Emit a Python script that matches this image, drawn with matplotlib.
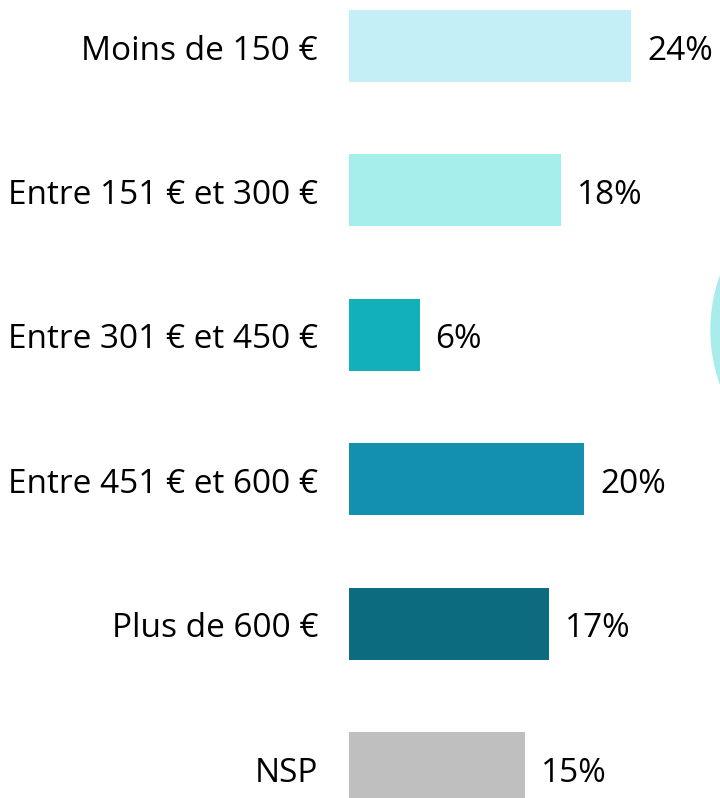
import matplotlib.pyplot as plt
from matplotlib.patches import Ellipse

categories = ["Moins de 150 €", "Entre 151 € et 300 €", "Entre 301 € et 450 €",
              "Entre 451 € et 600 €", "Plus de 600 €", "NSP"]
values = [24, 18, 6, 20, 17, 15]
colors = ["#c5eff7", "#a6eeec", "#12b0b8", "#1390b0", "#0d6b80", "#bfbfbf"]

plt.rcParams['font.family'] = ['Open Sans', 'DejaVu Sans']

W, H = 720, 798
fig = plt.figure(figsize=(W / 100, H / 100), dpi=100)
ax = fig.add_axes([0, 0, 1, 1])

# pixel geometry: bars start at x=349, ~11.75 px per %
x0, ppu = 349, 11.75
yc0, step = 46, 144.4
ax.set_xlim(-x0 / ppu, (W - x0) / ppu)
ax.set_ylim((H - yc0) / step, -yc0 / step)
ax.axis("off")

ys = list(range(len(categories)))
ax.barh(ys, values, height=0.5, color=colors)

base = 13.5 / step  # baseline offset below bar centre
for y, cat, v in zip(ys, categories, values):
    ax.text(-31 / ppu, y + base, cat, ha="right", va="baseline", fontsize=24)
    ax.text(v + 16 / ppu, y + base, f"{v}%", ha="left", va="baseline", fontsize=24)

# decorative circle partly visible at the right edge
r = 160.5
fig.patches.append(Ellipse((871.5 / W, 1 - 330 / H), 2 * r / W, 2 * r / H,
                           transform=fig.transFigure, color="#a8ecec", zorder=0))

fig.savefig("out.png", dpi=100)
